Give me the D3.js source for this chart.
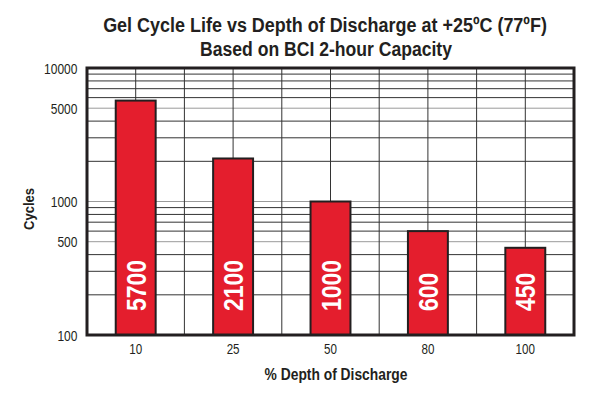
<!DOCTYPE html>
<html>
<head>
<meta charset="utf-8">
<script src="https://cdn.jsdelivr.net/npm/d3@7"></script>
<style>
  body { margin: 0; background: #fff; }
  svg text { font-family: "Liberation Sans", Arial, sans-serif; fill: #231f20; }
</style>
</head>
<body>
<svg id="chart"></svg>
<script>
// Data
const depths = ['10', '25', '50', '80', '100'];
const cycles = [5700, 2100, 1000, 600, 450];
const yTickValues = [100, 500, 1000, 5000, 10000];
const yGridValues = [200, 300, 400, 500, 600, 700, 800, 900,
                     1000, 2000, 3000, 4000, 5000, 6000, 7000, 8000, 9000];

const W = 600, H = 396;
const margin = { top: 68, right: 26, bottom: 61, left: 87 };
const width  = W - margin.left - margin.right;
const height = H - margin.top - margin.bottom;

const svg = d3.select('#chart').attr('width', W).attr('height', H);

const xScale = d3.scaleBand().domain(depths).range([0, width]).padding(0);
const yScale = d3.scaleLog().domain([100, 10000]).range([height, 0]);

const g = svg.append('g').attr('transform', `translate(${margin.left},${margin.top})`);

// condensed look: text placed at (x,y), squeezed horizontally to a target length
function condensedText(parent, x, y, rot, len, size, str) {
  const t = parent.append('text')
    .attr('text-anchor', 'middle').attr('font-size', size).attr('font-weight', 'bold')
    .text(str);
  const natural = t.node().getComputedTextLength();
  t.attr('transform', `translate(${x},${y}) rotate(${rot}) scale(${len / natural},1)`);
  return t;
}

// Title
condensedText(svg, 325, 32, 0, 444, 21, 'Gel Cycle Life vs Depth of Discharge at +25ºC (77ºF)');
condensedText(svg, 326, 56, 0, 252, 21, 'Based on BCI 2-hour Capacity');

// Horizontal grid
g.append('g')
  .selectAll('line')
  .data(yGridValues)
  .join('line')
  .attr('x1', 0).attr('x2', width)
  .attr('y1', d => yScale(d)).attr('y2', d => yScale(d))
  .attr('stroke', d => yTickValues.includes(d) ? '#9a9a9a' : '#333')
  .attr('stroke-width', 1);

// Vertical grid (band centres and band edges)
const vLines = [];
depths.forEach((d, i) => {
  vLines.push(xScale(d) + xScale.bandwidth() / 2);
  if (i > 0) vLines.push(xScale(d));
});
g.append('g')
  .selectAll('line')
  .data(vLines)
  .join('line')
  .attr('x1', d => d).attr('x2', d => d)
  .attr('y1', 0).attr('y2', height)
  .attr('stroke', '#333')
  .attr('stroke-width', 1);

// Bars
const barW = xScale.bandwidth() * 0.41;
g.selectAll('rect.bar')
  .data(cycles)
  .join('rect')
  .attr('class', 'bar')
  .attr('x', (d, i) => xScale(depths[i]) + (xScale.bandwidth() - barW) / 2)
  .attr('y', d => yScale(d))
  .attr('width', barW)
  .attr('height', d => height - yScale(d))
  .attr('fill', '#e41e2d')
  .attr('stroke', '#231f20')
  .attr('stroke-width', 2);

// Bar value labels
g.selectAll('text.val')
  .data(cycles)
  .join('text')
  .attr('class', 'val')
  .attr('transform', (d, i) => `translate(${xScale(depths[i]) + xScale.bandwidth() / 2},${height - 24}) rotate(-90) scale(0.82,1)`)
  .attr('dy', '0.36em')
  .attr('font-size', 28).attr('font-weight', 'bold')
  .style('fill', '#fff')
  .text(d => d);

// Frame
g.append('rect')
  .attr('x', 0).attr('y', 0)
  .attr('width', width).attr('height', height)
  .attr('fill', 'none').attr('stroke', '#231f20').attr('stroke-width', 3);

// Axes
g.append('g')
  .call(d3.axisLeft(yScale).tickValues(yTickValues).tickFormat(d3.format('d')).tickSize(0).tickPadding(12))
  .call(ax => ax.select('.domain').remove())
  .call(ax => ax.selectAll('text').attr('font-size', 15).attr('dy', '0.35em').attr('transform', 'scale(0.8,1)'));

g.append('g')
  .attr('transform', `translate(0,${height})`)
  .call(d3.axisBottom(xScale).tickSize(0).tickPadding(9))
  .call(ax => ax.select('.domain').remove())
  .call(ax => ax.selectAll('text').attr('font-size', 14).attr('dy', '0.71em').attr('transform', 'scale(0.83,1)'));

// Axis labels
condensedText(svg, 336, 380, 0, 143, 16, '% Depth of Discharge');
condensedText(svg, 34, 209, -90, 42, 15, 'Cycles');
</script>
</body>
</html>
